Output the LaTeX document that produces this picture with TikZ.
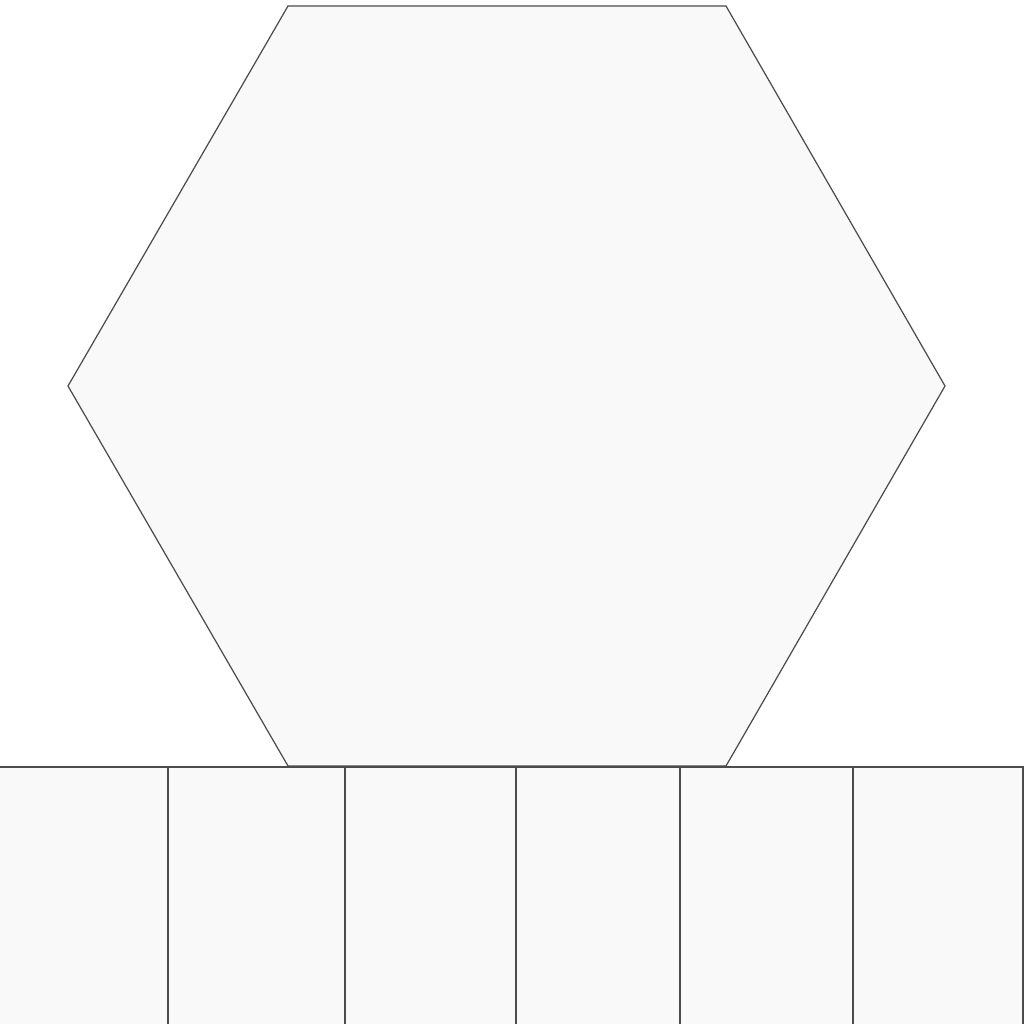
\documentclass[tikz,border=0pt]{standalone}
\begin{document}
\begin{tikzpicture}[x=0.01cm,y=-0.01cm,
  shapeline/.style={draw=black!70, line width=0.35pt, fill=black!2.5},
  cell/.style={shapeline, rectangle, inner sep=0pt, outer sep=0pt, anchor=north west}]
\useasboundingbox (0,0) rectangle (1024,1024);
% hexagon
\coordinate (h1) at (288,6);
\coordinate (h2) at (726,6);
\coordinate (h3) at (945,386);
\coordinate (h4) at (726,766);
\coordinate (h5) at (288,766);
\coordinate (h6) at (68,386);
\draw[shapeline] (h1) -- (h2) -- (h3) -- (h4) -- (h5) -- (h6) -- cycle;
% row of cells
\node[cell, minimum width=1.69cm, minimum height=2.58cm] (c1) at (-1,767) {};
\node[cell, minimum width=1.77cm, minimum height=2.58cm] (c2) at (168,767) {};
\node[cell, minimum width=1.71cm, minimum height=2.58cm] (c3) at (345,767) {};
\node[cell, minimum width=1.64cm, minimum height=2.58cm] (c4) at (516,767) {};
\node[cell, minimum width=1.73cm, minimum height=2.58cm] (c5) at (680,767) {};
\node[cell, minimum width=1.70cm, minimum height=2.58cm] (c6) at (853,767) {};
\end{tikzpicture}
\end{document}
